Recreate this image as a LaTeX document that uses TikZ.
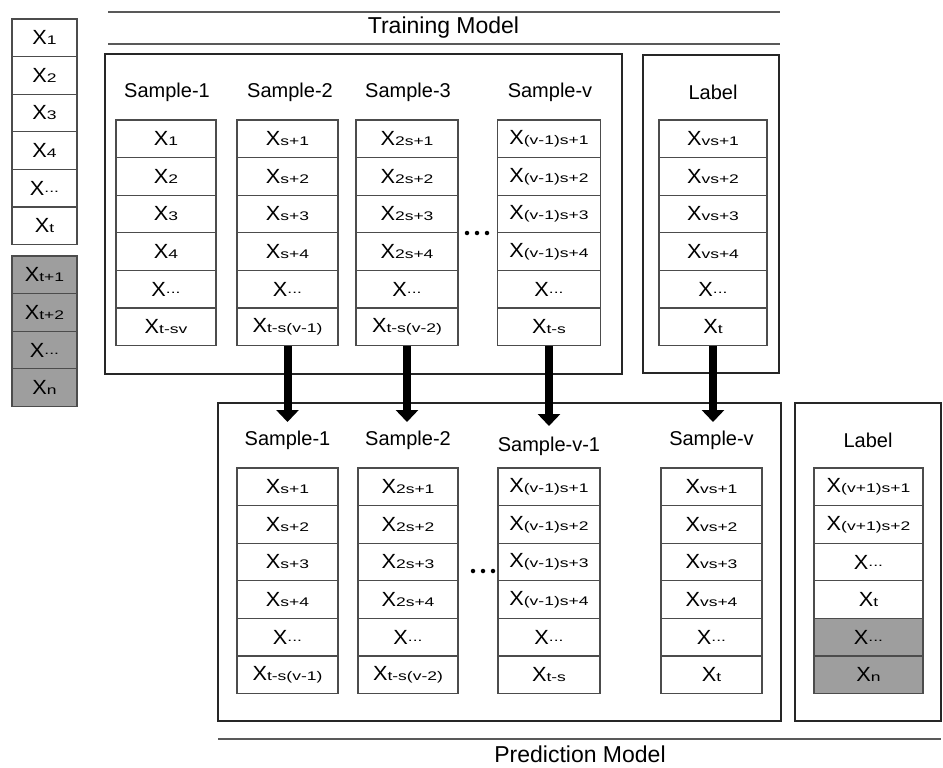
\documentclass[tikz,border=0pt]{standalone}
\usepackage{fontspec}
\usepackage{graphicx}
\setmainfont{Liberation Sans}
\usetikzlibrary{arrows.meta}
\newcommand\xs[1]{\scalebox{1.06}[1]{\fontsize{20.5}{20}\selectfont X}\scalebox{1.4}[1]{\fontsize{12.5}{13}\selectfont #1}}
\newcommand\xd{\xs{\raisebox{2.5pt}{...}}}
\newcommand\cellcol[6][]{%
  \foreach \t [count=\i] in {#6}{%
    \node[cell,#1,minimum width=#4pt] (#2-\i) at (#3,{#5+(\i-0.5)*37.6}) {\t};}}
\begin{document}
\begin{tikzpicture}[x=1pt,y=-1pt,
  cell/.style={draw=black!70, line width=1.2pt, minimum height=37.6pt, inner sep=0pt, fill=white},
  shade/.style={fill=black!38},
  box/.style={draw=black!85, line width=1.8pt},
  rule/.style={draw=black!65, line width=1.3pt},
  lbl/.style={font=\fontsize{20}{21}\selectfont, inner sep=0pt},
  ttl/.style={font=\fontsize{23}{24}\selectfont, inner sep=0pt},
  arr/.style={line width=8pt, -{Triangle[width=22pt,length=12pt]}},
  dot/.style={circle, fill=black, inner sep=0pt, minimum size=4.5pt}]
\useasboundingbox (0,0) rectangle (943,768);

% titles
\draw[rule] (108,12) -- (780,12);
\draw[rule] (108,44) -- (780,44);
\node[ttl] (ttrain) at (443.5,28) {Training Model};
\draw[rule] (218,739) -- (941,739);
\node[ttl] (tpred) at (580,754) {Prediction Model};

% left data column
\cellcol{L}{44.5}{65}{19}{{\xs{1}},{\xs{2}},{\xs{3}},{\xs{4}},{\xd},{\xs{t}}}
\cellcol[shade]{S}{44.5}{65}{256}{{\xs{t+1}},{\xs{t+2}},{\xd},{\xs{n}}}

% training model
\draw[box] (105,54) rectangle (622,374);
\draw[box] (643,55) rectangle (779,373);
\node[lbl] (ts1) at (167,92) {Sample-1};
\node[lbl] (ts2) at (290,92) {Sample-2};
\node[lbl] (ts3) at (408,92) {Sample-3};
\node[lbl] (tsv) at (550,92) {Sample-v};
\node[lbl] (tlb) at (713,92) {Label};
\cellcol{A}{166}{100}{120}{{\xs{1}},{\xs{2}},{\xs{3}},{\xs{4}},{\xd},{\xs{t-sv}}}
\cellcol{B}{287.5}{101}{120}{{\xs{s+1}},{\xs{s+2}},{\xs{s+3}},{\xs{s+4}},{\xd},{\xs{t-s(v-1)}}}
\cellcol{C}{407}{102}{120}{{\xs{2s+1}},{\xs{2s+2}},{\xs{2s+3}},{\xs{2s+4}},{\xd},{\xs{t-s(v-2)}}}
\cellcol{D}{549}{103}{120}{{\xs{(v-1)s+1}},{\xs{(v-1)s+2}},{\xs{(v-1)s+3}},{\xs{(v-1)s+4}},{\xd},{\xs{t-s}}}
\cellcol{E}{713}{108}{120}{{\xs{vs+1}},{\xs{vs+2}},{\xs{vs+3}},{\xs{vs+4}},{\xd},{\xs{t}}}
\node[dot] (d1) at (467,233) {};
\node[dot] (d2) at (477,233) {};
\node[dot] (d3) at (487,233) {};

% prediction model
\draw[box] (218,403) rectangle (781,721);
\draw[box] (795,403) rectangle (941,721);
\node[lbl] (ps1) at (287.5,440) {Sample-1};
\node[lbl] (ps2) at (408,440) {Sample-2};
\node[lbl] (psv1) at (549,446) {Sample-v-1};
\node[lbl] (psv) at (711.5,440) {Sample-v};
\node[lbl] (plb) at (868,440) {Label};
\cellcol{P}{287.5}{101}{468}{{\xs{s+1}},{\xs{s+2}},{\xs{s+3}},{\xs{s+4}},{\xd},{\xs{t-s(v-1)}}}
\cellcol{Q}{408}{100}{468}{{\xs{2s+1}},{\xs{2s+2}},{\xs{2s+3}},{\xs{2s+4}},{\xd},{\xs{t-s(v-2)}}}
\cellcol{R}{549}{102}{468}{{\xs{(v-1)s+1}},{\xs{(v-1)s+2}},{\xs{(v-1)s+3}},{\xs{(v-1)s+4}},{\xd},{\xs{t-s}}}
\cellcol{U}{711.5}{101}{468}{{\xs{vs+1}},{\xs{vs+2}},{\xs{vs+3}},{\xs{vs+4}},{\xd},{\xs{t}}}
\cellcol{W}{868.5}{109}{468}{{\xs{(v+1)s+1}},{\xs{(v+1)s+2}},{\xd},{\xs{t}}}
\cellcol[shade]{V}{868.5}{109}{618.4}{{\xd},{\xs{n}}}
\node[dot] (e1) at (473,571) {};
\node[dot] (e2) at (483,571) {};
\node[dot] (e3) at (493,571) {};

% arrows
\coordinate (a1) at (287.5,422);
\coordinate (a2) at (407,422);
\coordinate (a3) at (549,426);
\coordinate (a4) at (713,422);
\draw[arr] (B-6.south) -- (a1);
\draw[arr] (C-6.south) -- (a2);
\draw[arr] (D-6.south) -- (a3);
\draw[arr] (E-6.south) -- (a4);
\end{tikzpicture}
\end{document}
